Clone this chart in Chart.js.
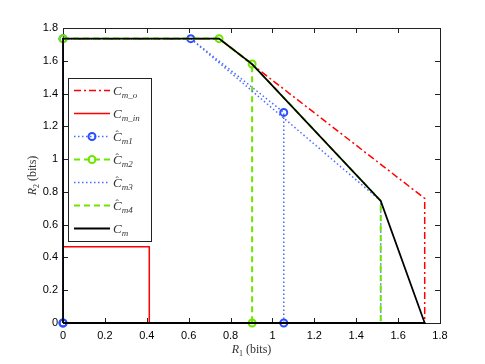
<!DOCTYPE html>
<html>
<head>
<meta charset="utf-8">
<script src="https://cdn.jsdelivr.net/npm/chart.js@4/dist/chart.umd.min.js"></script>
<style>
  html, body { margin: 0; padding: 0; background: #fff; }
  #wrap { width: 485px; height: 364px; position: relative; }
</style>
</head>
<body>
<div id="wrap"><canvas id="regionChart"></canvas></div>
<script>
// ── Data ──────────────────────────────────────────────────────────────────
const xTicks = [0, 0.2, 0.4, 0.6, 0.8, 1, 1.2, 1.4, 1.6, 1.8];
const yTicks = [0, 0.2, 0.4, 0.6, 0.8, 1, 1.2, 1.4, 1.6, 1.8];

const cmoX  = [0, 0.745, 0.9, 1.727, 1.727];
const cmoY  = [1.735, 1.735, 1.58, 0.76, 0];

const cminX = [0, 0.412, 0.412];
const cminY = [0.466, 0.466, 0];

const cm1X  = [0, 0, 0.61, 1.054, 1.054, 0];
const cm1Y  = [0, 1.735, 1.735, 1.285, 0, 0];

const cm2X  = [0, 0.745, 0.903, 0.903];
const cm2Y  = [1.735, 1.735, 1.58, 0];

const cm3X  = [0, 0.61, 1.517, 1.517];
const cm3Y  = [1.735, 1.735, 0.745, 0];

const cm4X  = [0, 0.745, 0.903, 1.517, 1.517];
const cm4Y  = [1.735, 1.735, 1.58, 0.745, 0];

const cmX   = [0, 0, 0.745, 0.903, 1.517, 1.727, 0];
const cmY   = [0, 1.735, 1.735, 1.58, 0.745, 0, 0];

// legend labels: [hat?, base letter, subscript]
const labels = [
    [false, 'C', 'm_o'],
    [false, 'C', 'm_in'],
    [true,  'C', 'm1'],
    [true,  'C', 'm2'],
    [true,  'C', 'm3'],
    [true,  'C', 'm4'],
    [false, 'C', 'm']
];

// ── Helpers ───────────────────────────────────────────────────────────────
const pts = (xs, ys) => xs.map((x, i) => ({ x, y: ys[i] }));
const RED   = '#ff0000';
const BLUE  = '#2b4dff';
const DOTS  = '#4a6bff';
const GREEN = '#6ee600';

function series(idx, xs, ys, style) {
    return Object.assign({
        data: pts(xs, ys),
        showLine: true,
        fill: false,
        clip: false,
        pointRadius: 0,
        pointHoverRadius: 0,
        borderWidth: 1.5,
        order: 6 - idx          // later series drawn on top, MATLAB style
    }, style);
}

// ── Box + inward ticks + axis titles + legend ─────────────────────────────
const matlabFrame = {
    id: 'matlabFrame',
    beforeDatasetsDraw(chart) {
        const { ctx, chartArea: a, scales } = chart;
        ctx.save();
        ctx.strokeStyle = '#222';
        ctx.lineWidth = 1;
        ctx.setLineDash([]);
        ctx.strokeRect(a.left + 0.5, a.top + 0.5, a.right - a.left, a.bottom - a.top);
        ctx.beginPath();
        xTicks.forEach(v => {
            const px = Math.round(scales.x.getPixelForValue(v)) + 0.5;
            ctx.moveTo(px, a.bottom); ctx.lineTo(px, a.bottom - 5);
            ctx.moveTo(px, a.top);    ctx.lineTo(px, a.top + 5);
        });
        yTicks.forEach(v => {
            const py = Math.round(scales.y.getPixelForValue(v)) + 0.5;
            ctx.moveTo(a.left, py);  ctx.lineTo(a.left + 5, py);
            ctx.moveTo(a.right, py); ctx.lineTo(a.right - 5, py);
        });
        ctx.stroke();
        ctx.restore();
    },
    afterDatasetsDraw(chart) {
        const { ctx, chartArea: a } = chart;
        ctx.save();

        // axis titles
        ctx.fillStyle = '#333';
        ctx.textBaseline = 'alphabetic';
        const drawTitle = (sub) => {
            ctx.font = 'italic 12px "Liberation Serif"';
            const w1 = ctx.measureText('R').width;
            ctx.font = '8px "Liberation Serif"';
            const w2 = ctx.measureText(sub).width;
            ctx.font = '12px "Liberation Serif"';
            const w3 = ctx.measureText(' (bits)').width;
            const total = w1 + w2 + w3;
            let x = -total / 2;
            ctx.font = 'italic 12px "Liberation Serif"';
            ctx.fillText('R', x, 4); x += w1;
            ctx.font = '8px "Liberation Serif"';
            ctx.fillText(sub, x, 7); x += w2;
            ctx.font = '12px "Liberation Serif"';
            ctx.fillText(' (bits)', x, 4);
        };
        ctx.save();
        ctx.translate((a.left + a.right) / 2, 349);
        drawTitle('1');
        ctx.restore();
        ctx.save();
        ctx.translate(32, (a.top + a.bottom) / 2);
        ctx.rotate(-Math.PI / 2);
        drawTitle('2');
        ctx.restore();

        // legend box
        const lx = 68, ly = 78, lw = 83, lh = 163;
        ctx.fillStyle = '#fff';
        ctx.fillRect(lx, ly, lw, lh);
        ctx.strokeStyle = '#222';
        ctx.lineWidth = 1;
        ctx.strokeRect(lx + 0.5, ly + 0.5, lw, lh);

        chart.data.datasets.forEach((ds, i) => {
            const y = 90 + i * 23;
            ctx.save();
            ctx.strokeStyle = ds.borderColor;
            ctx.lineWidth = ds.borderWidth;
            ctx.setLineDash(ds.borderDash || []);
            ctx.beginPath();
            ctx.moveTo(74, y + 0.5);
            ctx.lineTo(110, y + 0.5);
            ctx.stroke();
            if (ds.pointRadius > 0) {
                ctx.setLineDash([]);
                ctx.strokeStyle = ds.pointBorderColor;
                ctx.lineWidth = ds.pointBorderWidth;
                ctx.beginPath();
                ctx.arc(92, y + 0.5, ds.pointRadius, 0, Math.PI * 2);
                ctx.stroke();
            }
            ctx.restore();

            const [hat, base, sub] = labels[i];
            ctx.fillStyle = '#333';
            ctx.font = 'italic 13px "Liberation Serif"';
            ctx.fillText(base, 113, y + 5);
            const bw = ctx.measureText(base).width;
            if (hat) {
                ctx.font = '10px "Liberation Serif"';
                ctx.fillText('ˆ', 115.5, y + 2);
            }
            ctx.font = 'italic 9px "Liberation Serif"';
            ctx.fillText(sub, 113 + bw, y + 8);
        });
        ctx.restore();
    }
};

// ── Chart ─────────────────────────────────────────────────────────────────
const tickFmt = v => String(Number(v.toFixed(1)));

const ctx = document.getElementById('regionChart').getContext('2d');
const regionChart = new Chart(ctx, {
    type: 'scatter',
    data: {
        datasets: [
            series(0, cmoX, cmoY, { borderColor: RED, borderDash: [7, 3, 2, 3] }),
            series(1, cminX, cminY, { borderColor: RED }),
            series(2, cm1X, cm1Y, {
                borderColor: DOTS, borderWidth: 1.5, borderDash: [1.5, 2.5],
                pointRadius: 3.5, pointBorderColor: BLUE, pointBorderWidth: 2,
                pointBackgroundColor: 'rgba(0,0,0,0)'
            }),
            series(3, cm2X, cm2Y, {
                borderColor: GREEN, borderWidth: 2, borderDash: [6, 4],
                pointRadius: 3.5, pointBorderColor: GREEN, pointBorderWidth: 2,
                pointBackgroundColor: 'rgba(0,0,0,0)'
            }),
            series(4, cm3X, cm3Y, { borderColor: DOTS, borderWidth: 1.5, borderDash: [1.5, 2.5] }),
            series(5, cm4X, cm4Y, { borderColor: GREEN, borderWidth: 2, borderDash: [6, 4] }),
            series(6, cmX, cmY, { borderColor: '#000', borderWidth: 1.8 })
        ]
    },
    options: {
        responsive: true,
        maintainAspectRatio: false,
        animation: false,
        events: [],
        layout: { padding: { top: 28, right: 45, left: 0, bottom: 0 } },
        plugins: { legend: { display: false }, tooltip: { enabled: false } },
        scales: {
            x: {
                type: 'linear', min: 0, max: 1.8,
                afterBuildTicks: s => { s.ticks = xTicks.map(v => ({ value: v })); },
                afterFit: s => { s.height = 41; },
                grid: { display: false, drawTicks: false },
                border: { display: false },
                ticks: { callback: tickFmt, color: '#000', padding: 6, maxRotation: 0,
                         font: { family: 'Liberation Sans', size: 11 } }
            },
            y: {
                type: 'linear', min: 0, max: 1.8,
                afterBuildTicks: s => { s.ticks = yTicks.map(v => ({ value: v })); },
                afterFit: s => { s.width = 63; },
                grid: { display: false, drawTicks: false },
                border: { display: false },
                ticks: { callback: tickFmt, color: '#000', padding: 5,
                         font: { family: 'Liberation Sans', size: 11 } }
            }
        }
    },
    plugins: [matlabFrame]
});
</script>
</body>
</html>
